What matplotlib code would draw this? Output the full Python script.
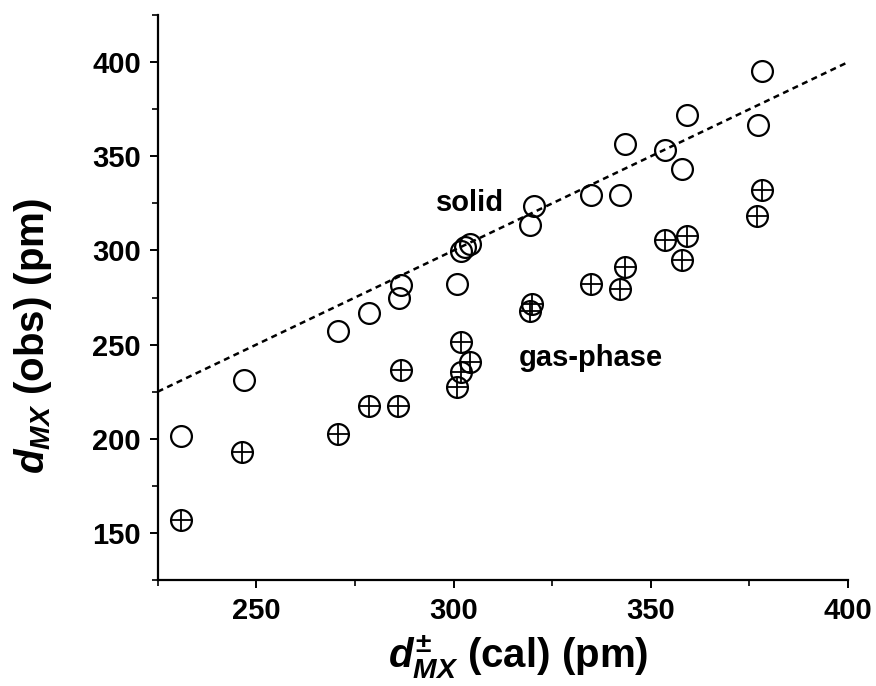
import numpy as np
import matplotlib.pyplot as plt
from matplotlib.ticker import MultipleLocator

plt.rcParams['font.family'] = ['Liberation Sans', 'DejaVu Sans']
plt.rcParams['font.weight'] = 'bold'
plt.rcParams['mathtext.fontset'] = 'custom'
plt.rcParams['mathtext.rm'] = 'Liberation Sans:bold'
plt.rcParams['mathtext.it'] = 'Liberation Sans:bold:italic'
plt.rcParams['mathtext.bf'] = 'Liberation Sans:bold'

# solid state (open circles)
x_solid = [230.8, 246.8, 270.7, 278.6, 286.2, 286.7, 301.0, 301.8, 302.8, 304.3,
           319.3, 320.4, 334.8, 342.2, 343.5, 353.7, 358.0, 359.3, 377.3, 378.3]
y_solid = [201.4, 231.3, 257.0, 267.0, 274.6, 281.5, 282.0, 299.7, 301.8, 303.4,
           313.6, 323.7, 329.6, 329.6, 356.8, 353.1, 343.5, 371.8, 366.5, 395.3]

# gas phase (crossed circles)
x_gas = [230.8, 246.5, 270.7, 278.6, 286.0, 286.7, 301.0, 302.0, 302.0, 304.3,
         319.3, 320.0, 334.8, 342.2, 343.5, 353.7, 358.0, 359.3, 377.0, 378.3]
y_gas = [157.1, 192.8, 202.5, 217.4, 217.4, 236.6, 227.6, 235.6, 251.6, 240.9,
         267.6, 271.4, 282.0, 279.4, 291.1, 305.6, 294.9, 307.7, 318.4, 332.3]

# y = x reference line
x_line = [225, 400]

fig = plt.figure(figsize=(8.76, 6.86), dpi=100)
ax = fig.add_axes([0.180, 0.1545, 0.788, 0.8235])

ax.plot(x_line, x_line, color='black', lw=1.8, dashes=(2.4, 1.8), zorder=1)

ax.plot(x_solid, y_solid, 'o', ms=15, mfc='none', mec='black', mew=1.6, zorder=3)
ax.plot(x_gas, y_gas, 'o', ms=15, mfc='none', mec='black', mew=1.6, zorder=3)
ax.plot(x_gas, y_gas, '+', ms=15, mec='black', mew=1.3, zorder=3)

ax.text(304.3, 325, 'solid', fontsize=21, fontweight='bold', ha='center', va='center')
ax.text(334.8, 243, 'gas-phase', fontsize=21, fontweight='bold', ha='center', va='center')

ax.set_xlim(225, 400)
ax.set_ylim(125, 425)
ax.xaxis.set_major_locator(MultipleLocator(50))
ax.xaxis.set_minor_locator(MultipleLocator(25))
ax.yaxis.set_major_locator(MultipleLocator(50))
ax.yaxis.set_minor_locator(MultipleLocator(25))
ax.set_xticks([250, 300, 350, 400])
ax.set_yticks([150, 200, 250, 300, 350, 400])

ax.spines['top'].set_visible(False)
ax.spines['right'].set_visible(False)
for s in ['left', 'bottom']:
    ax.spines[s].set_linewidth(1.6)

ax.tick_params(which='major', direction='out', length=6, width=1.4, labelsize=21, pad=6)
ax.tick_params(which='minor', direction='out', length=4, width=1.2)
for lab in ax.get_xticklabels() + ax.get_yticklabels():
    lab.set_fontweight('bold')

ax.set_xlabel(r'$d_{MX}^{\pm}$ (cal) (pm)', fontsize=29, fontweight='bold')
ax.set_ylabel(r'$d_{MX}$ (obs) (pm)', fontsize=29, fontweight='bold')
ax.xaxis.set_label_coords(0.522, -0.094)
ax.yaxis.set_label_coords(-0.150, 0.432)

fig.savefig('out.png', dpi=100)
